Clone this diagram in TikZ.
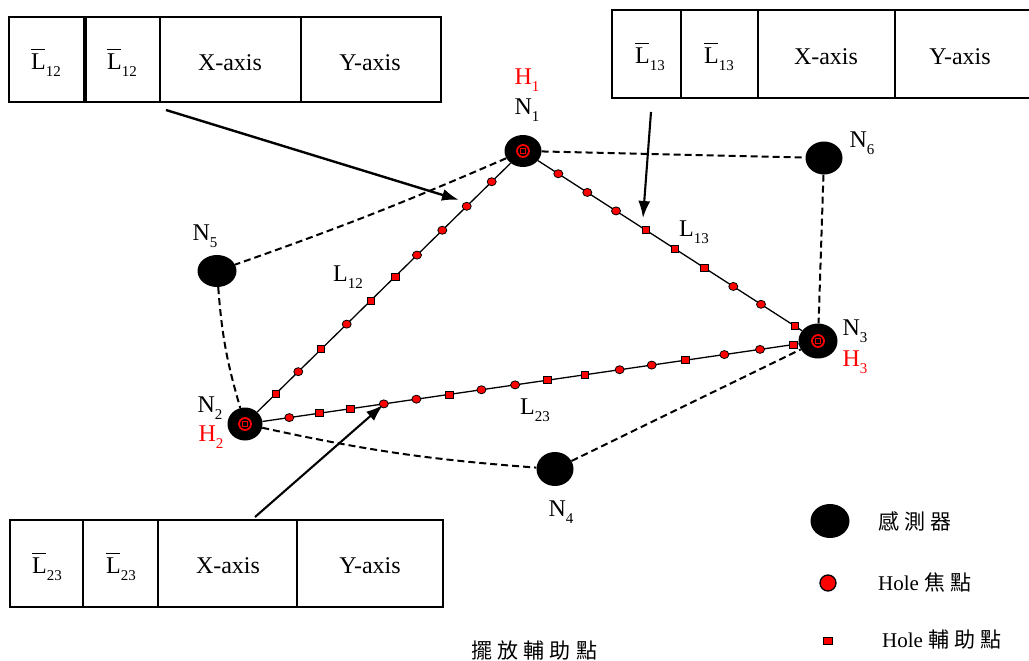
\documentclass[tikz,border=0pt]{standalone}
\usepackage{fontspec}
\setmainfont{Liberation Serif}
\newfontfamily\cjk[LetterSpace=25]{Noto Sans CJK TC}
\usetikzlibrary{arrows.meta,shapes.geometric}
\newcommand\sbs[1]{\raisebox{-0.3em}{\fontsize{15}{15}\selectfont #1}}
\newcommand\Lbar[1]{\leavevmode\hbox{\rlap{\raisebox{0.8em}{\rule{0.58em}{1.3pt}}}L}\sbs{#1}}
\begin{document}
\begin{tikzpicture}[x=1pt,y=-1pt,
  every node/.style={inner sep=0},
  lbl/.style={font=\fontsize{24}{26}\selectfont},
  hlbl/.style={lbl, text=red},
  leg/.style={font=\fontsize{21}{23}\selectfont, anchor=west},
  sensor/.style={ellipse, fill=black, minimum width=37pt, minimum height=32pt},
  auxs/.style={rectangle, fill=red, draw=black, line width=0.8pt, minimum width=7.5pt, minimum height=7pt},
  auxc/.style={ellipse, fill=red, draw=black, line width=0.8pt, minimum width=9pt, minimum height=8pt},
  link/.style={line width=1.3pt},
  dlink/.style={line width=2pt, dash pattern=on 7pt off 4pt},
  callout/.style={line width=2.4pt, -{Latex[length=17pt,width=12pt]}},
  cell/.style={line width=1.4pt}]
\useasboundingbox (0,0) rectangle (1029,661);

% ---------- tables ----------
\draw[cell] (9,17) rectangle (441,102);
\draw[cell] (84,17) -- (84,102);
\draw[cell] (86,17) -- (86,102);
\draw[cell] (160,17) -- (160,102);
\draw[cell] (301,17) -- (301,102);
\node[lbl] (t1a) at (46,63) {\Lbar{12}};
\node[lbl] (t1b) at (122,63) {\Lbar{12}};
\node[lbl] (t1c) at (230,63) {X-axis};
\node[lbl] (t1d) at (370,63) {Y-axis};

\draw[cell] (612,10) rectangle (1032,98);
\draw[cell] (681,10) -- (681,98);
\draw[cell] (758,10) -- (758,98);
\draw[cell] (895,10) -- (895,98);
\node[lbl] (t2a) at (650,57) {\Lbar{13}};
\node[lbl] (t2b) at (719,57) {\Lbar{13}};
\node[lbl] (t2c) at (826,57) {X-axis};
\node[lbl] (t2d) at (960,57) {Y-axis};

\draw[cell] (10,520) rectangle (443,607);
\draw[cell] (83,520) -- (83,607);
\draw[cell] (158,520) -- (158,607);
\draw[cell] (297,520) -- (297,607);
\node[lbl] (t3a) at (47,567) {\Lbar{23}};
\node[lbl] (t3b) at (121,567) {\Lbar{23}};
\node[lbl] (t3c) at (228,566) {X-axis};
\node[lbl] (t3d) at (370,566) {Y-axis};

% ---------- sensors ----------
\node[sensor, minimum width=37pt, minimum height=32pt] (N1) at (523,151) {};
\node[sensor, minimum width=35pt, minimum height=33pt] (N2) at (245,424) {};
\node[sensor, minimum width=39pt, minimum height=35pt] (N3) at (818,341) {};
\node[sensor, minimum width=37pt, minimum height=34pt] (N4) at (555,469) {};
\node[sensor, minimum width=39pt, minimum height=32pt] (N5) at (217,271) {};
\node[sensor, minimum width=37pt, minimum height=33pt] (N6) at (824,158) {};

% hole focus marks
\foreach \n in {N1,N2,N3}{
  \draw[red, line width=1.8pt] (\n.center) circle (6pt);
  \draw[red, line width=1.2pt] ([shift={(-2.5pt,-2.5pt)}]\n.center) rectangle ([shift={(2.5pt,2.5pt)}]\n.center);
}

% node labels
\node[lbl] (lN1) at (527,110) {N\sbs{1}};
\node[hlbl] (lH1) at (527,80) {H\sbs{1}};
\node[lbl] (lN2) at (210,408) {N\sbs{2}};
\node[hlbl] (lH2) at (211,437) {H\sbs{2}};
\node[lbl] (lN3) at (855,331) {N\sbs{3}};
\node[hlbl] (lH3) at (855,362) {H\sbs{3}};
\node[lbl] (lN4) at (561,512) {N\sbs{4}};
\node[lbl] (lN5) at (205,236) {N\sbs{5}};
\node[lbl] (lN6) at (862,143) {N\sbs{6}};

% ---------- connectors ----------
\draw[link] (N1) -- (N2);
\draw[link] (N1) -- (N3);
\draw[link] (N2) -- (N3);
\draw[dlink] (N1) to[bend left=2] (N5);
\draw[dlink] (N1) -- (N6);
\draw[dlink] (N6) -- (N3);
\draw[dlink] (N5) to[bend right=6] (N2);
\draw[dlink] (N2) to[bend right=4] (N4);
\draw[dlink] (N4) -- (N3);

% line labels
\node[lbl] (L12) at (348,277) {L\sbs{12}};
\node[lbl] (L13) at (694,232) {L\sbs{13}};
\node[lbl] (L23) at (535,410) {L\sbs{23}};

% ---------- auxiliary points ----------
\foreach \t/\s [count=\i] in {0.1126/c,0.2025/c,0.2903/c,0.3813/c,0.4594/s,0.5478/s,0.6342/c,0.7266/s,0.8083/c,0.8896/s}{
  \path (N1.center) -- (N2.center) node[aux\s, pos=\t] (pa\i) {};
}
\foreach \t/\s [count=\i] in {0.1197/c,0.218/c,0.3153/c,0.4159/s,0.5153/s,0.6146/s,0.7129/c,0.8068/c,0.922/s}{
  \path (N1.center) -- (N3.center) node[aux\s, pos=\t] (pb\i) {};
}
\foreach \t/\s [count=\i] in {0.0773/c,0.1295/s,0.1843/s,0.2422/c,0.2991/c,0.3565/s,0.4126/c,0.4714/c,0.5281/s,0.5935/s,0.6538/c,0.7098/c,0.7686/s,0.8366/c,0.8988/c,0.9569/s}{
  \path (N2.center) -- (N3.center) node[aux\s, pos=\t] (pc\i) {};
}

% ---------- callout arrows ----------
\coordinate (c1s) at (166,110);
\coordinate (c1e) at (459,200);
\coordinate (c2s) at (651,112);
\coordinate (c2e) at (643,218);
\coordinate (c3s) at (255,517);
\coordinate (c3e) at (383,405);
\draw[callout] (c1s) -- (c1e);
\draw[callout, line width=2.1pt] (c2s) -- (c2e);
\draw[callout, line width=2.1pt] (c3s) -- (c3e);

% ---------- legend ----------
\node[sensor, minimum width=39pt, minimum height=34pt] (kS) at (830,521) {};
\node[leg] (kSt) at (878,521) {\cjk 感測器};
\node[circle, fill=red, draw=black, line width=1.3pt, minimum size=16pt] (kH) at (828,583) {};
\node[leg] (kHt) at (878,582) {Hole {\cjk 焦點}};
\node[auxs, minimum width=9pt, minimum height=7pt] (kA) at (828,641) {};
\node[leg] (kAt) at (882,640) {Hole {\cjk 輔助點}};

% caption
\node[font=\fontsize{21}{23}\selectfont] (cap) at (534,651) {\cjk 擺放輔助點};
\end{tikzpicture}
\end{document}
